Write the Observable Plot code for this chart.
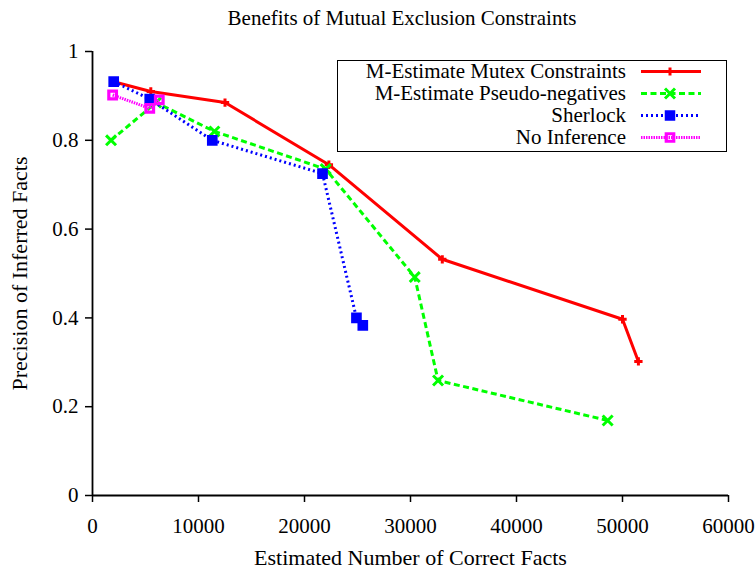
<!DOCTYPE html>
<html>
<head>
<meta charset="utf-8">
<script src="https://cdn.jsdelivr.net/npm/d3@7"></script>
<script src="https://cdn.jsdelivr.net/npm/@observablehq/plot@0.6"></script>
<style>
  body { margin: 0; background: #fff; font-family: "Liberation Serif", "DejaVu Serif", serif; }
  #wrap { position: relative; width: 755px; height: 569px; }
  #title { position: absolute; left: 92px; width: 620px; top: 6px; text-align: center; font-size: 21px; line-height: 24px; color: #000; }
  #legend { position: absolute; left: 337px; top: 60px; width: 390px; height: 92px; border: 1px solid #000; box-sizing: border-box; }
  .row { position: absolute; left: 0; width: 389px; height: 21px; }
  .row span { position: absolute; right: 101px; top: 0; font-size: 21px; line-height: 21px; white-space: nowrap; }
  .row svg { position: absolute; left: 300px; top: 0; }
</style>
</head>
<body>
<div id="wrap">
  <div id="title">Benefits of Mutual Exclusion Constraints</div>
  <div id="chart"></div>
  <div id="legend"></div>
</div>
<script>
const seriesNames = ["M-Estimate Mutex Constraints", "M-Estimate Pseudo-negatives", "Sherlock", "No Inference"];
const mutexX = [2000, 5500, 12500, 22300, 33000, 50000, 51500];
const mutexY = [0.932, 0.910, 0.885, 0.745, 0.532, 0.397, 0.302];
const pseudoX = [1750, 6000, 11500, 22000, 30400, 32600, 48600];
const pseudoY = [0.800, 0.885, 0.820, 0.735, 0.492, 0.259, 0.169];
const sherlockX = [2000, 5400, 11300, 21700, 24900, 25500];
const sherlockY = [0.932, 0.893, 0.800, 0.725, 0.400, 0.383];
const noInfX = [1900, 5400, 6300];
const noInfY = [0.902, 0.872, 0.891];
const xTicks = [0, 10000, 20000, 30000, 40000, 50000, 60000];
const yTicks = [0, 0.2, 0.4, 0.6, 0.8, 1];

const styles = [
  {color: "#ff0000", dash: null, symbol: "plus", fill: "none", r: 2.8, sw: 3, legSize: 24},
  {color: "#00ff00", dash: "6,3.5", symbol: "times", fill: "none", r: 4.6, sw: 3, legSize: 67},
  {color: "#0000ff", dash: "2,3", symbol: "square", fill: "#0000ff", r: 4.6, sw: 2.5, legSize: 64},
  {color: "#ff00ff", dash: "1.5,1", symbol: "square", fill: "none", r: 4.3, sw: 3.2, legSize: 56}
];
const xs = [mutexX, pseudoX, sherlockX, noInfX];
const ys = [mutexY, pseudoY, sherlockY, noInfY];
const series = xs.map((xa, i) => xa.map((x, j) => ({x, y: ys[i][j], s: seriesNames[i]})));

const font = 21;
const marks = [
  Plot.ruleY([0], {x1: 0, x2: 60000, stroke: "#000", strokeWidth: 1.8}),
  Plot.ruleX([0], {y1: 0, y2: 1, stroke: "#000", strokeWidth: 1.8}),
  Plot.axisX({ticks: xTicks, tickSize: 7, tickFormat: d => String(d), fontSize: font, tickPadding: 16, strokeWidth: 1.5, label: null}),
  Plot.axisY({ticks: yTicks, tickSize: 7, tickFormat: d => String(d), fontSize: font, tickPadding: 7, strokeWidth: 1.5, label: null}),
  Plot.axisX({ticks: [], tickSize: 0, fontSize: 22,
    label: "Estimated Number of Correct Facts", labelAnchor: "center", labelOffset: 69, labelArrow: "none"}),
  Plot.axisY({ticks: [], tickSize: 0, fontSize: 22,
    label: "Precision of Inferred Facts", labelAnchor: "center", labelOffset: 81, labelArrow: "none"})
];
series.forEach((data, i) => {
  const st = styles[i];
  marks.push(Plot.line(data, {x: "x", y: "y", stroke: st.color, strokeWidth: 3, strokeDasharray: st.dash, strokeLinecap: "butt"}));
  marks.push(Plot.dot(data, {x: "x", y: "y", symbol: st.symbol, r: st.r, stroke: st.color, strokeWidth: st.sw, fill: st.fill}));
});

const chart = Plot.plot({
  width: 755, height: 569,
  marginTop: 51, marginBottom: 74, marginLeft: 92, marginRight: 27,
  style: {fontFamily: "'Liberation Serif', serif", fontSize: font + "px", color: "#000", background: "#fff"},
  x: {domain: [0, 60000]},
  y: {domain: [0, 1]},
  marks
});
document.getElementById("chart").appendChild(chart);

// Legend
const legend = document.getElementById("legend");
const rowTops = [0, 22, 44, 66];
const symbolTypes = {plus: d3.symbolPlus, times: d3.symbolTimes, square: d3.symbolSquare};
seriesNames.forEach((name, i) => {
  const st = styles[i];
  const row = document.createElement("div");
  row.className = "row";
  row.style.top = rowTops[i] + "px";
  const span = document.createElement("span");
  span.textContent = name;
  row.appendChild(span);
  const ns = "http://www.w3.org/2000/svg";
  const svg = document.createElementNS(ns, "svg");
  svg.setAttribute("width", 70); svg.setAttribute("height", 21);
  const line = document.createElementNS(ns, "line");
  line.setAttribute("x1", 3); line.setAttribute("x2", 63); line.setAttribute("y1", 10.5); line.setAttribute("y2", 10.5);
  line.setAttribute("stroke", st.color); line.setAttribute("stroke-width", 3);
  if (st.dash) line.setAttribute("stroke-dasharray", st.dash);
  svg.appendChild(line);
  const p = document.createElementNS(ns, "path");
  p.setAttribute("d", d3.symbol(symbolTypes[st.symbol], st.legSize)());
  p.setAttribute("transform", "translate(32,10.5)");
  p.setAttribute("stroke", st.color); p.setAttribute("stroke-width", st.sw);
  p.setAttribute("fill", st.fill);
  svg.appendChild(p);
  row.appendChild(svg);
  legend.appendChild(row);
});
</script>
</body>
</html>
